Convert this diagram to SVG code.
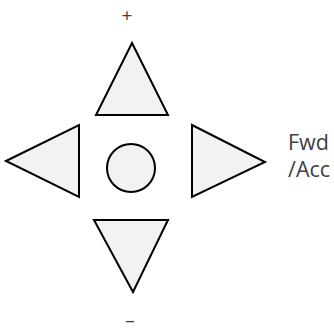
<svg xmlns="http://www.w3.org/2000/svg" width="334" height="332" viewBox="0 0 334 332">
<style>
.btn{fill:#f2f2f2;stroke:#000;stroke-width:2;stroke-linejoin:miter}
.lbl{font-family:"Open Sans","Liberation Sans",sans-serif;fill:#404040}
</style>
<rect width="334" height="332" fill="#fff"/>
<g id="up"><polygon class="btn" points="132,43 168,115 96,115"/></g>
<g id="down"><polygon class="btn" points="94,220 168,220 133,292"/></g>
<g id="left"><polygon class="btn" points="6,161 79,125 79,197"/></g>
<g id="right"><polygon class="btn" points="192,125 265,162 192,197"/></g>
<g id="center"><circle class="btn" cx="131" cy="168" r="24"/></g>
<g id="labels">
<text class="lbl" x="127" y="22" font-size="19" text-anchor="middle">+</text>
<text class="lbl" x="130" y="327" font-size="19" text-anchor="middle">–</text>
<text class="lbl" x="288" y="150" font-size="21.5">Fwd</text>
<text class="lbl" x="288" y="177" font-size="21.5">/Acc</text>
</g>
<g id="connectors"></g>
</svg>
